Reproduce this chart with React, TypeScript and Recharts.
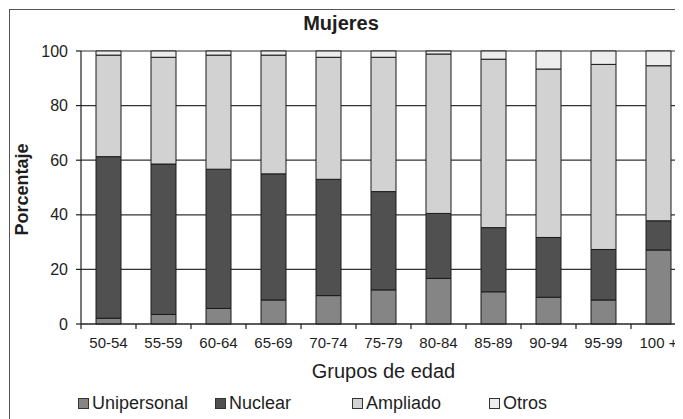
import { BarChart, Bar, XAxis, YAxis, CartesianGrid } from 'recharts'

const categories = ['50-54', '55-59', '60-64', '65-69', '70-74', '75-79', '80-84', '85-89', '90-94', '95-99', '100 +']
const unipersonal = [2.1, 3.5, 5.7, 8.8, 10.4, 12.5, 16.7, 11.8, 9.8, 8.8, 27.1]
const nuclear = [59.2, 55.1, 51.0, 46.2, 42.6, 36.0, 23.8, 23.5, 21.9, 18.5, 10.7]
const ampliado = [37.2, 39.1, 41.8, 43.5, 44.7, 49.2, 58.4, 61.7, 61.7, 67.8, 56.8]
const otros = [1.5, 2.3, 1.5, 1.5, 2.3, 2.3, 1.1, 3.0, 6.6, 4.9, 5.4]
const yTicks = [0, 20, 40, 60, 80, 100]

const series = [
  { key: 'unipersonal', name: 'Unipersonal', fill: '#858585' },
  { key: 'nuclear', name: 'Nuclear', fill: '#505050' },
  { key: 'ampliado', name: 'Ampliado', fill: '#d2d2d2' },
  { key: 'otros', name: 'Otros', fill: '#ededed' },
]

const data = categories.map((grupo, i) => ({
  grupo,
  unipersonal: unipersonal[i],
  nuclear: nuclear[i],
  ampliado: ampliado[i],
  otros: otros[i],
}))

const FONT = '"Liberation Sans", Arial, Helvetica, sans-serif'
const INK = '#1e1e1e'

// eslint-disable-next-line @typescript-eslint/no-explicit-any
function GroupTick(props: any) {
  const { x, y, payload, width, visibleTicksCount } = props
  const band = width / visibleTicksCount
  const left = x - band / 2
  return (
    <g>
      <line x1={left} x2={left} y1={y} y2={y + 5} stroke={INK} strokeWidth={1.2} />
      <text x={x} y={y + 24} textAnchor="middle" fill={INK} fontSize={15} fontFamily={FONT}>
        {payload.value}
      </text>
    </g>
  )
}

// eslint-disable-next-line @typescript-eslint/no-explicit-any
const yLabel = ({ viewBox }: any) => {
  const cx = viewBox.x + 1
  const cy = viewBox.y + viewBox.height / 2 + 2
  return (
    <text
      x={cx}
      y={cy}
      transform={`rotate(-90 ${cx} ${cy})`}
      textAnchor="middle"
      dominantBaseline="central"
      fontSize={18}
      fontWeight="bold"
      fontFamily={FONT}
      fill={INK}
    >
      Porcentaje
    </text>
  )
}

// eslint-disable-next-line @typescript-eslint/no-explicit-any
const xLabel = ({ viewBox }: any) => (
  <text
    x={viewBox.x + viewBox.width / 2}
    y={viewBox.y + 47}
    textAnchor="middle"
    dominantBaseline="central"
    fontSize={20}
    fontFamily={FONT}
    fill={INK}
  >
    Grupos de edad
  </text>
)

export default function App() {
  return (
    <div style={{ position: 'relative', width: 675, height: 411, overflow: 'hidden', fontFamily: FONT }}>
      <div
        style={{
          position: 'absolute',
          left: 1,
          top: 1,
          width: 720,
          height: 440,
          border: '1px solid #555',
          background: '#fff',
        }}
      >
        <div
          style={{
            position: 'absolute',
            left: 0,
            top: 0,
            width: 662,
            textAlign: 'center',
            fontSize: 20,
            fontWeight: 'bold',
            lineHeight: '24px',
            paddingTop: 1,
            color: INK,
          }}
        >
          Mujeres
        </div>
        <BarChart
          width={700}
          height={420}
          data={data}
          margin={{ top: 41, right: 24, left: 11, bottom: 76 }}
          barSize={25}
        >
          <CartesianGrid vertical={false} stroke="#333" strokeWidth={1.2} />
          <XAxis
            dataKey="grupo"
            height={30}
            tickSize={0}
            tickMargin={0}
            tickLine={false}
            axisLine={{ stroke: INK, strokeWidth: 1.2 }}
            tick={<GroupTick />}
            interval={0}
            label={{ content: xLabel }}
          />
          <YAxis
            width={60}
            domain={[0, 100]}
            ticks={yTicks}
            tickSize={5}
            tickMargin={8}
            axisLine={{ stroke: INK, strokeWidth: 1.2 }}
            tickLine={{ stroke: INK, strokeWidth: 1.2 }}
            tick={{ fill: INK, fontSize: 16, fontFamily: FONT }}
            label={{ content: yLabel }}
          />
          {series.map((s) => (
            <Bar
              key={s.key}
              dataKey={s.key}
              name={s.name}
              stackId="a"
              fill={s.fill}
              stroke="#1a1a1a"
              strokeWidth={1}
              isAnimationActive={false}
            />
          ))}
        </BarChart>
        <div
          style={{
            position: 'absolute',
            left: 68,
            top: 383,
            display: 'flex',
            fontSize: 18,
            color: INK,
          }}
        >
          {series.map((s) => (
            <div key={s.key} style={{ width: 137, display: 'flex', alignItems: 'center' }}>
              <span
                style={{
                  display: 'inline-block',
                  width: 9,
                  height: 9,
                  background: s.fill,
                  border: '1px solid #333',
                  marginRight: 3,
                }}
              />
              {s.name}
            </div>
          ))}
        </div>
      </div>
    </div>
  )
}
